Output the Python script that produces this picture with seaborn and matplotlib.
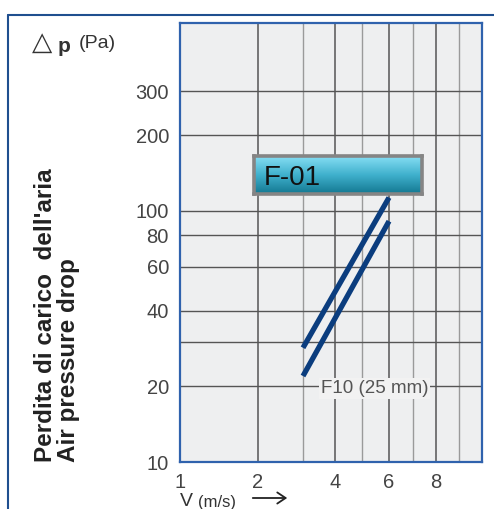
import numpy as np
import pandas as pd
import matplotlib
matplotlib.use("AGG")
import matplotlib.pyplot as plt
from matplotlib.colors import LinearSegmentedColormap
from matplotlib.lines import Line2D
import seaborn as sns

# curves (velocity m/s, pressure drop Pa)
v_upper = [3.0, 6.0]
dp_upper = [28.5, 113.0]
v_lower = [3.0, 6.0]
dp_lower = [22.0, 91.0]

x_major = [1, 2, 4, 6, 8]
x_minor = [3, 5, 7, 9]
y_major = [10, 20, 40, 60, 80, 100, 200, 300]
y_minor = [30]

# the printed velocity axis is not a clean log scale, so map it piecewise
scale_vals = np.array([1, 2, 3, 4, 5, 6, 7, 8, 9, 10], dtype=float)
scale_pos = np.array([0, 78, 123, 155, 182, 209, 233, 256, 279, 302], dtype=float)

def fwd(x):
    return np.interp(x, scale_vals, scale_pos)

def inv(p):
    return np.interp(p, scale_pos, scale_vals)

df = pd.DataFrame({
    'v': v_upper + v_lower,
    'dp': dp_upper + dp_lower,
    'curve': ['upper'] * len(v_upper) + ['lower'] * len(v_lower),
})

sns.set_style("white")
plt.rcParams['font.family'] = ['Liberation Sans', 'DejaVu Sans']

fig = plt.figure(figsize=(4.94, 5.09), dpi=100)
ax = fig.add_axes([180/494, 1-462/509, 302/494, 439/509])
ax.set_facecolor('#eeeff0')

sns.lineplot(data=df, x='v', y='dp', hue='curve', palette=['#0b3d7e', '#0b3d7e'],
             linewidth=3.8, legend=False, ax=ax, solid_capstyle='butt')

ax.set_xscale('function', functions=(fwd, inv))
ax.set_yscale('log')
ax.set_xlim(1, 10)
ax.set_ylim(10, 560)

ax.set_xticks(x_major)
ax.set_xticks(x_minor, minor=True)
ax.set_xticklabels([str(v) for v in x_major])
ax.set_yticks(y_major)
ax.set_yticks(y_minor, minor=True)
ax.set_yticklabels([str(v) for v in y_major])
ax.yaxis.set_minor_formatter(matplotlib.ticker.NullFormatter())
ax.xaxis.set_minor_formatter(matplotlib.ticker.NullFormatter())

ax.grid(True, which='major', axis='x', color='#555555', linewidth=1.1)
ax.grid(True, which='minor', axis='x', color='#9a9a9a', linewidth=1.0)
ax.grid(True, which='both', axis='y', color='#555555', linewidth=1.0)
ax.set_axisbelow(True)

ax.tick_params(axis='both', which='both', length=0, labelsize=14.5, labelcolor='#444444')
ax.tick_params(axis='y', pad=8)
ax.tick_params(axis='x', pad=8)
ax.set_xlabel('')
ax.set_ylabel('')
for s in ax.spines.values():
    s.set_color('#2f62ad')
    s.set_linewidth(1.6)

# F10 label
ax.text(3.55, 19.6, 'F10 (25 mm)', fontsize=13.5, color='#555555', ha='left', va='center',
        bbox=dict(facecolor='#f2f2f2', edgecolor='none', pad=1.5))

# F-01 title box with gradient
bax = fig.add_axes([254/494, 1-194/509, 168/494, 38/509])
grad = np.linspace(0, 1, 100).reshape(-1, 1)
cmap = LinearSegmentedColormap.from_list('teal', ['#86def4', '#3fb0cc', '#137891'])
bax.imshow(grad, aspect='auto', cmap=cmap, extent=[0, 1, 0, 1])
bax.set_xticks([])
bax.set_yticks([])
for s in bax.spines.values():
    s.set_color('#858585')
    s.set_linewidth(2.6)
bax.text(0.06, 0.42, 'F-01', fontsize=20, color='#111111', ha='left', va='center',
         transform=bax.transAxes)

# axis titles
fig.text(32/494, 1-43/509, '\u25b3', fontsize=19, color='#333333', ha='left', va='center',
         family=['DejaVu Sans'])
fig.text(58/494, 1-46/509, 'p', fontsize=15, fontweight='bold', color='#333333',
         ha='left', va='center')
fig.text(79/494, 1-44/509, '(Pa)', fontsize=14, color='#333333', ha='left', va='center')

fig.text(45/494, 1-462/509, "Perdita di carico  dell'aria", rotation=90, fontsize=17.5,
         fontweight='bold', color='#222222', ha='center', va='bottom')
fig.text(68/494, 1-462/509, 'Air pressure drop', rotation=90, fontsize=17.5,
         fontweight='bold', color='#222222', ha='center', va='bottom')

fig.text(180/494, 1-501/509, 'V', fontsize=14, color='#333333', ha='left', va='center')
fig.text(198/494, 1-502/509, '(m/s)', fontsize=12, color='#333333', ha='left', va='center')
fig.add_artist(matplotlib.patches.FancyArrowPatch(
    (250/494, 1-498/509), (290/494, 1-498/509), transform=fig.transFigure,
    arrowstyle='->,head_length=6,head_width=4', color='#222222', linewidth=1.3))

# outer frame
fig.add_artist(Line2D([8/494, 1], [1-15/509, 1-15/509], color='#1f4f8f', linewidth=1.5,
                      transform=fig.transFigure))
fig.add_artist(Line2D([8/494, 8/494], [0, 1-15/509], color='#1f4f8f', linewidth=1.5,
                      transform=fig.transFigure))

plt.savefig('out.png', format='png', dpi=100)
